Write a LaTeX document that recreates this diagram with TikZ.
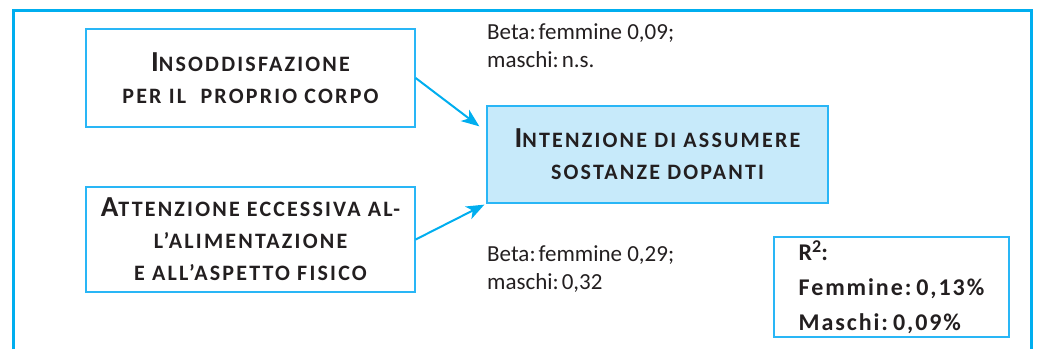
\documentclass[tikz,border=0pt]{standalone}
\usepackage{fontspec}
\setmainfont{Carlito}
\newfontfamily\boxfont[LetterSpace=10]{Carlito}
\newfontfamily\rsqfont[LetterSpace=8]{Carlito}
\usetikzlibrary{arrows.meta}
\tikzset{>={Stealth[length=18pt,width=14pt,inset=5pt]}}
\definecolor{frameblue}{RGB}{0,174,239}
\definecolor{lineblue}{RGB}{41,182,246}
\definecolor{paleblue}{RGB}{199,234,250}
\definecolor{ink}{RGB}{35,31,32}
\newcommand{\BIGCAP}[1]{{\fontsize{29}{32}\selectfont #1}}

\begin{document}
\begin{tikzpicture}[x=1pt, y=-1pt,
  box/.style={draw=lineblue, line width=1.3pt, text=ink, align=center, inner sep=0pt,
    font=\boxfont\bfseries\fontsize{22}{32}\selectfont},
  beta/.style={text=ink, align=left, inner sep=0pt, anchor=north west,
    font=\fontsize{23}{28}\selectfont},
  link/.style={->, draw=frameblue, fill=frameblue, line width=2pt}]

  \useasboundingbox (0,0) rectangle (1037,349);

  %% outer frame, open at the bottom
  \draw[frameblue, line width=3pt] (13,349) -- (13,10) -- (1031,10) -- (1031,349);

  %% predictors
  \node[box, minimum width=329pt, minimum height=98pt] (ins) at (250.5,78)
    {\BIGCAP{I}NSODDISFAZIONE\\PER IL\ \ PROPRIO CORPO};
  \node[box, minimum width=329pt, minimum height=105pt] (att) at (250.5,239.5)
    {\BIGCAP{A}TTENZIONE ECCESSIVA AL-\\L’ALIMENTAZIONE\\E ALL’ASPETTO FISICO};

  %% outcome
  \node[box, fill=paleblue, minimum width=341pt, minimum height=97pt] (dop) at (657.5,154.5)
    {\BIGCAP{I}NTENZIONE DI ASSUMERE\\SOSTANZE DOPANTI};

  \draw[link] (ins.east) -- ([xshift=-7pt, yshift=-21pt]dop.north west);
  \draw[link] (att.east) -- ([xshift=-2pt, yshift=-1pt]dop.south west);

  %% coefficients
  \node[beta] (beta1) at (487,23) {Beta:\kern3pt femmine 0,09;\\maschi:\kern3pt n.s.};
  \node[beta] (beta2) at (487,245) {Beta:\kern3pt femmine 0,29;\\maschi:\kern3pt 0,32};

  \node[box, align=left, minimum width=235pt, minimum height=100pt,
    font=\rsqfont\bfseries\fontsize{24}{35}\selectfont] (rsq) at (891.5,287)
    {R\raisebox{8pt}{\fontsize{18}{20}\selectfont 2}:\\Femmine:\kern5pt0,13\%\\Maschi:\kern5pt0,09\%};
\end{tikzpicture}
\end{document}
